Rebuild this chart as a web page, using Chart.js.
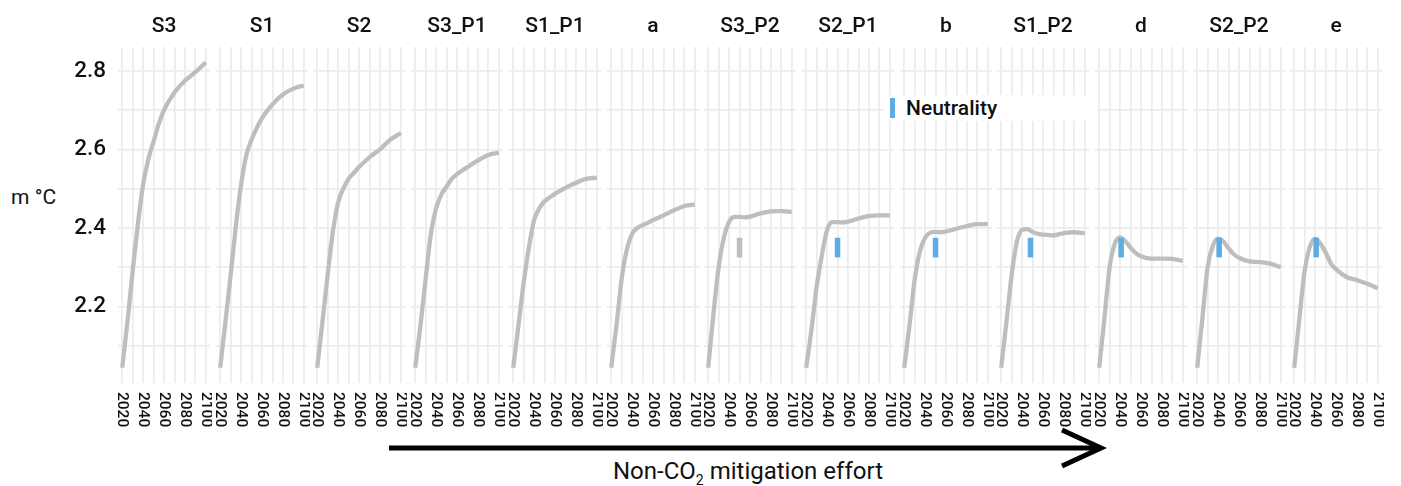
<!DOCTYPE html>
<html>
<head>
<meta charset="utf-8">
<script src="https://cdn.jsdelivr.net/npm/chart.js@4.4.1/dist/chart.umd.min.js"></script>
<style>
  html, body { margin: 0; padding: 0; background: #fff; }
  #wrap { position: relative; width: 1401px; height: 486px; overflow: hidden; font-family: Roboto, "Noto Sans", sans-serif; color: #111; }
  #wrap canvas { position: absolute; top: 0; }
  .ylab { position: absolute; left: 11px; top: 185px; font-size: 21px; line-height: 24px; }
  .legend { position: absolute; left: 884px; top: 95px; width: 213px; height: 26px; background: #fff; z-index: 2; }
  .leg-bar { position: absolute; left: 6px; top: 3px; width: 5px; height: 20px; background: #5dade2; }
  .leg-txt { position: absolute; left: 22px; top: 1px; font-size: 21px; font-weight: 500; line-height: 24px; }
  .effort { position: absolute; left: 498px; width: 500px; top: 457px; text-align: center; font-size: 24px; line-height: 28px; }
  .effort sub { font-size: 14px; line-height: 0; }
  svg { position: absolute; left: 0; top: 0; }
</style>
</head>
<body>
<div id="wrap">
  <div class="ylab">m °C</div>
  <div class="legend"><div class="leg-bar"></div><div class="leg-txt">Neutrality</div></div>
  <svg width="1401" height="486">
    <line x1="389" y1="448" x2="1099" y2="448" stroke="#000" stroke-width="5"/>
    <polyline points="1062,430 1101,448 1062,466" fill="none" stroke="#000" stroke-width="5"/>
  </svg>
  <div class="effort">Non-CO<sub>2</sub> mitigation effort</div>
</div>
<script>
/* ---------- Daten ---------- */
const PANELS = ['S3', 'S1', 'S2', 'S3_P1', 'S1_P1', 'a', 'S3_P2', 'S2_P1', 'b', 'S1_P2', 'd', 'S2_P2', 'e'];
const YEARS  = [2020, 2025, 2030, 2035, 2040, 2045, 2050, 2055, 2060, 2070, 2080, 2090, 2100];

const T_S3    = [2.044, 2.16, 2.29, 2.41, 2.51, 2.575, 2.62, 2.665, 2.70, 2.745, 2.775, 2.797, 2.822];
const T_S1    = [2.044, 2.16, 2.28, 2.405, 2.51, 2.585, 2.625, 2.655, 2.68, 2.715, 2.74, 2.755, 2.763];
const T_S2    = [2.044, 2.16, 2.28, 2.39, 2.465, 2.50, 2.525, 2.54, 2.555, 2.58, 2.60, 2.625, 2.642];
const T_S3_P1 = [2.044, 2.15, 2.27, 2.385, 2.45, 2.485, 2.505, 2.525, 2.537, 2.555, 2.572, 2.586, 2.592];
const T_S1_P1 = [2.044, 2.15, 2.26, 2.35, 2.42, 2.45, 2.468, 2.478, 2.487, 2.502, 2.515, 2.525, 2.528];
const T_A     = [2.044, 2.15, 2.27, 2.345, 2.385, 2.40, 2.407, 2.413, 2.42, 2.432, 2.445, 2.456, 2.46];
const T_S3_P2 = [2.044, 2.18, 2.30, 2.375, 2.415, 2.428, 2.428, 2.427, 2.429, 2.437, 2.442, 2.443, 2.441];
const T_S2_P1 = [2.044, 2.14, 2.25, 2.33, 2.395, 2.415, 2.415, 2.414, 2.416, 2.424, 2.43, 2.432, 2.432];
const T_B     = [2.044, 2.15, 2.267, 2.34, 2.375, 2.388, 2.39, 2.389, 2.391, 2.398, 2.405, 2.41, 2.41];
const T_S1_P2 = [2.044, 2.16, 2.28, 2.365, 2.395, 2.397, 2.39, 2.385, 2.383, 2.381, 2.387, 2.389, 2.386];
const T_D     = [2.044, 2.17, 2.30, 2.36, 2.376, 2.366, 2.35, 2.336, 2.328, 2.322, 2.322, 2.321, 2.316];
const T_S2_P2 = [2.044, 2.17, 2.30, 2.355, 2.373, 2.366, 2.348, 2.333, 2.324, 2.315, 2.313, 2.309, 2.30];
const T_E     = [2.044, 2.17, 2.29, 2.352, 2.373, 2.36, 2.338, 2.31, 2.295, 2.275, 2.267, 2.258, 2.246];
const SERIES = [T_S3, T_S1, T_S2, T_S3_P1, T_S1_P1, T_A, T_S3_P2, T_S2_P1, T_B, T_S1_P2, T_D, T_S2_P2, T_E];

// Jahr der Neutralität je Panel (null = keine Markierung), Balken von LO bis HI
const NEUTRAL_YEAR = [null, null, null, null, null, null, 2050, 2050, 2050, 2048, 2041, 2041, 2041];
const NEUTRAL_LO = 2.325;
const NEUTRAL_HI = 2.375;

const Y_LABELS = [2.2, 2.4, 2.6, 2.8];
const Y_GRID   = [2.1, 2.2, 2.3, 2.4, 2.5, 2.6, 2.7, 2.8];
const X_LABELS = [2020, 2040, 2060, 2080, 2100];
const X_GRID   = [2020, 2030, 2040, 2050, 2060, 2070, 2080, 2090, 2100];

/* ---------- Stil ---------- */
const LINE = '#bebebe';
const BLUE = '#5dade2';
const GRID = '#ececec';
const TXT = '#111';
const MUTED_MARKER = ['S3_P2'];   // Markierung grau statt blau

const PLOT_W = 92, PITCH = 97.7, FIRST_LEFT = 118;
const CANVAS_H = 440, PLOT_TOP = 47, PLOT_BOTTOM = 383;

// Panel-Titel + gedrehte Jahreszahlen (im Uhrzeigersinn)
const panelText = {
  id: 'panelText',
  afterDraw(chart) {
    const { ctx, chartArea } = chart;
    const xs = chart.scales.x;
    ctx.save();
    ctx.fillStyle = TXT;
    ctx.font = '500 21px Roboto';
    ctx.textAlign = 'center';
    ctx.textBaseline = 'middle';
    ctx.fillText(chart.options.plugins.panelText.title, (chartArea.left + chartArea.right) / 2, 27);
    ctx.font = '500 15.5px Roboto';
    ctx.textAlign = 'left';
    X_LABELS.forEach(v => {
      ctx.save();
      ctx.translate(xs.getPixelForValue(v), chartArea.bottom + 9);
      ctx.rotate(Math.PI / 2);
      ctx.fillText(String(v), 0, 0);
      ctx.restore();
    });
    ctx.restore();
  },
};

function makePanel(i) {
  const wrap = document.getElementById('wrap');
  const first = i === 0;
  const plotLeft = FIRST_LEFT + Math.round(i * PITCH);
  const padL = first ? 0 : 3;
  const left = first ? 0 : plotLeft - 3;
  const width = (first ? plotLeft : 3) + PLOT_W + 2;

  const cv = document.createElement('canvas');
  cv.width = width; cv.height = CANVAS_H;
  cv.style.left = left + 'px';
  cv.style.width = width + 'px'; cv.style.height = CANVAS_H + 'px';
  wrap.appendChild(cv);

  const datasets = [{
    data: YEARS.map((x, k) => ({ x, y: SERIES[i][k] })),
    borderColor: LINE,
    borderWidth: 4.3,
    pointRadius: 0,
    cubicInterpolationMode: 'monotone',
    fill: false,
    order: 1,
  }];
  if (NEUTRAL_YEAR[i] !== null) {
    datasets.push({
      data: [{ x: NEUTRAL_YEAR[i], y: NEUTRAL_LO }, { x: NEUTRAL_YEAR[i], y: NEUTRAL_HI }],
      borderColor: MUTED_MARKER.includes(PANELS[i]) ? LINE : BLUE,
      borderWidth: 5.5,
      borderCapStyle: 'butt',
      pointRadius: 0,
      tension: 0,
      fill: false,
      order: 0,
    });
  }

  return new Chart(cv, {
    type: 'line',
    data: { datasets },
    options: {
      responsive: false,
      animation: false,
      devicePixelRatio: 1,
      layout: { padding: { left: padL, right: 2, top: PLOT_TOP, bottom: CANVAS_H - PLOT_BOTTOM } },
      plugins: { legend: { display: false }, tooltip: { enabled: false }, panelText: { title: PANELS[i] } },
      scales: {
        x: {
          type: 'linear', min: 2016, max: 2104,
          afterBuildTicks: s => { s.ticks = X_GRID.map(v => ({ value: v })); },
          afterFit: s => { s.height = 0; },
          ticks: { display: false },
          grid: { color: GRID, lineWidth: 1.8, drawTicks: false },
          border: { display: false },
        },
        y: {
          type: 'linear', min: 2.005, max: 2.861,
          afterBuildTicks: s => { s.ticks = Y_GRID.map(v => ({ value: v })); },
          afterFit: s => { s.width = first ? plotLeft : 0; },
          ticks: {
            display: first, autoSkip: false, padding: 12, color: TXT,
            font: { family: 'Roboto', size: 22.5, weight: '500' },
            callback: v => (Y_LABELS.some(l => Math.abs(l - v) < 1e-6) ? v.toFixed(1) : ''),
          },
          grid: { color: GRID, lineWidth: 1.8, drawTicks: false },
          border: { display: false },
        },
      },
    },
    plugins: [panelText],
  });
}

PANELS.forEach((_, i) => makePanel(i));
</script>
</body>
</html>
